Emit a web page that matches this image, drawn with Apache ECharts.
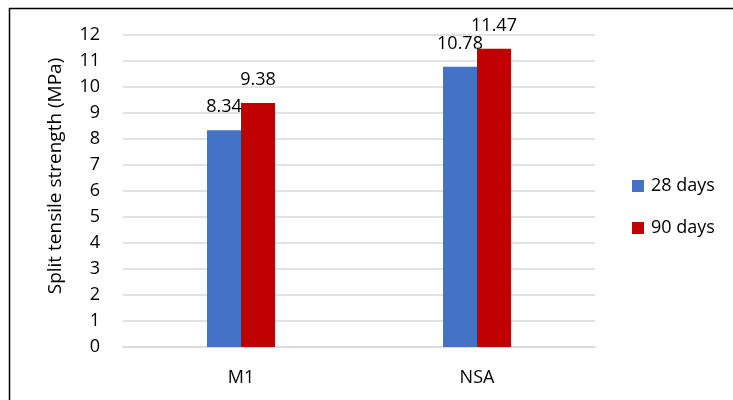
<!DOCTYPE html>
<html>
<head>
<meta charset="utf-8">
<script src="https://cdn.jsdelivr.net/npm/echarts@6/dist/echarts.min.js"></script>
<style>
  html, body { margin: 0; padding: 0; background: #fff; }
  #chart { width: 733px; height: 400px; }
</style>
</head>
<body>
<div id="chart"></div>
<script>
const categories = ['M1', 'NSA']
const days28 = [8.34, 10.78]
const days90 = [9.38, 11.47]
const seriesNames = ['28 days', '90 days']

const font = '"Open Sans", sans-serif'
const labelStyle = {
  show: true,
  position: 'top',
  distance: 14,
  color: '#000',
  fontSize: 18,
  fontFamily: font
}

const chart = echarts.init(document.getElementById('chart'))
chart.setOption({
  animation: false,
  color: ['#4472c4', '#c00000'],
  grid: { top: 35, bottom: 53, left: 123, right: 138 },
  legend: {
    orient: 'vertical',
    left: 632,
    top: 177,
    padding: 0,
    itemWidth: 12,
    itemHeight: 12,
    itemGap: 24,
    icon: 'rect',
    textStyle: { fontSize: 18, fontFamily: font, color: '#000', padding: [0, 0, 0, 2] },
    data: seriesNames
  },
  xAxis: {
    type: 'category',
    data: categories,
    axisTick: { show: false },
    axisLine: { lineStyle: { color: '#d9d9d9', width: 1.5 } },
    axisLabel: { margin: 22, color: '#000', fontSize: 18, fontFamily: font }
  },
  yAxis: {
    type: 'value',
    min: 0,
    max: 12,
    interval: 1,
    name: 'Split tensile strength (MPa)',
    nameLocation: 'middle',
    nameGap: 58,
    nameTextStyle: { color: '#000', fontSize: 19, fontFamily: font, padding: [0, 0, 0, 30] },
    axisLabel: { margin: 23, color: '#000', fontSize: 18, fontFamily: font },
    splitLine: { lineStyle: { color: '#d9d9d9', width: 1.5 } }
  },
  series: [
    {
      name: seriesNames[0],
      type: 'bar',
      data: days28,
      barWidth: 34,
      barGap: '0%',
      label: labelStyle
    },
    {
      name: seriesNames[1],
      type: 'bar',
      data: days90,
      barWidth: 34,
      label: labelStyle
    }
  ],
  graphic: [
    { type: 'line', shape: { x1: 9, y1: 8.5, x2: 733, y2: 8.5 }, style: { stroke: '#000', lineWidth: 1.5 } },
    { type: 'line', shape: { x1: 9.5, y1: 8, x2: 9.5, y2: 400 }, style: { stroke: '#000', lineWidth: 1.5 } }
  ]
})
</script>
</body>
</html>
